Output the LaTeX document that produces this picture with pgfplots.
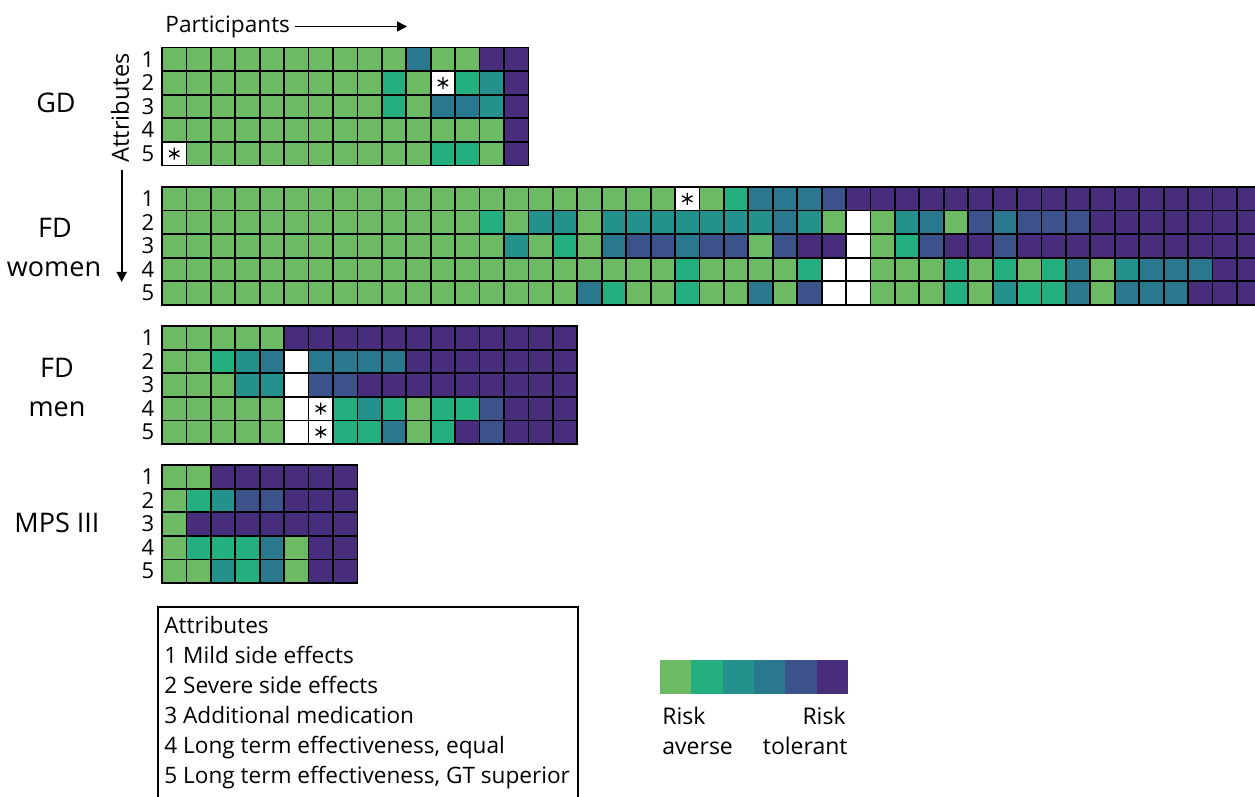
\documentclass[border=0pt]{standalone}
\usepackage{fontspec}
\setmainfont{Open Sans}
\usepackage{pgfplots}
\usepackage{pgfplotstable}
\pgfplotsset{compat=1.18}
\usetikzlibrary{arrows.meta}

\definecolor{c1}{RGB}{108,186,99}
\definecolor{c2}{RGB}{36,175,126}
\definecolor{c3}{RGB}{37,145,140}
\definecolor{c4}{RGB}{42,120,142}
\definecolor{c5}{RGB}{59,82,139}
\definecolor{c6}{RGB}{71,45,124}

\pgfdeclareplotmark{cell}{%
  \pgfpathrectanglecorners{\pgfqpoint{-6.11pt}{-5.9pt}}{\pgfqpoint{6.11pt}{5.9pt}}%
  \pgfusepathqfillstroke}

\tikzset{cellbase/.style={mark=cell,draw=black,line width=0.9pt}}
\newcommand\fs[1]{\fontsize{#1}{#1}\selectfont}

% level per participant (p) and attribute (a1..a5); 0 = no answer
\pgfplotstableread{
p a1 a2 a3 a4 a5
1 1 1 1 1 0
2 1 1 1 1 1
3 1 1 1 1 1
4 1 1 1 1 1
5 1 1 1 1 1
6 1 1 1 1 1
7 1 1 1 1 1
8 1 1 1 1 1
9 1 1 1 1 1
10 1 2 2 1 1
11 4 1 1 1 1
12 1 0 4 1 2
13 1 2 4 1 2
14 6 3 3 1 1
15 6 6 6 6 6
}\gd

\pgfplotstableread{
p a1 a2 a3 a4 a5
1 1 1 1 1 1
2 1 1 1 1 1
3 1 1 1 1 1
4 1 1 1 1 1
5 1 1 1 1 1
6 1 1 1 1 1
7 1 1 1 1 1
8 1 1 1 1 1
9 1 1 1 1 1
10 1 1 1 1 1
11 1 1 1 1 1
12 1 1 1 1 1
13 1 1 1 1 1
14 1 2 1 1 1
15 1 1 3 1 1
16 1 3 1 1 1
17 1 3 2 1 1
18 1 1 1 1 4
19 1 3 4 1 2
20 1 3 5 1 1
21 1 3 5 1 1
22 0 3 4 2 2
23 1 3 5 1 1
24 2 3 5 1 1
25 4 3 1 1 4
26 4 4 5 1 1
27 4 3 6 2 5
28 5 1 6 0 0
29 6 0 0 0 0
30 6 1 1 1 1
31 6 3 2 1 1
32 6 4 5 1 1
33 6 1 6 2 2
34 6 5 6 1 1
35 6 4 5 2 3
36 6 5 6 1 2
37 6 5 6 2 2
38 6 5 6 4 4
39 6 6 6 1 1
40 6 6 6 3 4
41 6 6 6 4 4
42 6 6 6 4 4
43 6 6 6 4 6
44 6 6 6 6 6
45 6 6 6 6 6
}\fdw

\pgfplotstableread{
p a1 a2 a3 a4 a5
1 1 1 1 1 1
2 1 1 1 1 1
3 1 2 1 1 1
4 1 3 3 1 1
5 1 4 3 1 1
6 6 0 0 0 0
7 6 4 5 0 0
8 6 4 5 2 2
9 6 4 6 3 2
10 6 4 6 2 4
11 6 6 6 1 1
12 6 6 6 2 2
13 6 6 6 2 6
14 6 6 6 5 5
15 6 6 6 6 6
16 6 6 6 6 6
17 6 6 6 6 6
}\fdm

\pgfplotstableread{
p a1 a2 a3 a4 a5
1 1 1 1 1 1
2 1 2 6 2 1
3 6 3 6 2 3
4 6 5 6 2 2
5 6 5 6 4 4
6 6 6 6 1 1
7 6 6 6 6 6
8 6 6 6 6 6
}\mps

% cells marked with an asterisk: panel top (px), participant, attribute
\pgfplotstableread{
top p a
47.5 1 5
47.5 12 2
187 22 1
326 7 4
326 7 5
}\stars

\begin{document}
\begin{tikzpicture}
\begin{axis}[at={(0,0)}, anchor=south west,
  width=627.5pt, height=398.5pt, scale only axis,
  xmin=0, xmax=1255, ymin=0, ymax=797, y dir=reverse,
  hide axis, clip=false,
  cellplot/.style={scatter, only marks, point meta=explicit symbolic,
    scatter/classes={
      0={cellbase,fill=white},
      1={cellbase,fill=c1},
      2={cellbase,fill=c2},
      3={cellbase,fill=c3},
      4={cellbase,fill=c4},
      5={cellbase,fill=c5},
      6={cellbase,fill=c6}}}]

\pgfplotsinvokeforeach{1,2,3,4,5}{
  \addplot[cellplot] table[x expr={162+24.43*(\thisrow{p}-0.5)}, y expr={47.5+23.6*(#1-0.5)}, meta=a#1]{\gd};
  \addplot[cellplot] table[x expr={162+24.43*(\thisrow{p}-0.5)}, y expr={187+23.6*(#1-0.5)}, meta=a#1]{\fdw};
  \addplot[cellplot] table[x expr={162+24.43*(\thisrow{p}-0.5)}, y expr={326+23.6*(#1-0.5)}, meta=a#1]{\fdm};
  \addplot[cellplot] table[x expr={162+24.43*(\thisrow{p}-0.5)}, y expr={465+23.6*(#1-0.5)}, meta=a#1]{\mps};
}

\addplot[only marks, mark=asterisk, mark size=3pt, black, line width=0.65pt]
  table[x expr={162+24.43*(\thisrow{p}-0.5)}, y expr={\thisrow{top}+23.6*(\thisrow{a}-0.5)}]{\stars};

% row numbers
\pgfplotsinvokeforeach{47.5,187,326,465}{
  \node[font=\fs{11}] at (axis cs:148,{#1+11.8}) {1};
  \node[font=\fs{11}] at (axis cs:148,{#1+35.4}) {2};
  \node[font=\fs{11}] at (axis cs:148,{#1+59.0}) {3};
  \node[font=\fs{11}] at (axis cs:148,{#1+82.6}) {4};
  \node[font=\fs{11}] at (axis cs:148,{#1+106.2}) {5};
}

% panel labels
\node[font=\fs{13.5}, anchor=base] at (axis cs:56,113) {GD};
\node[font=\fs{13.5}, anchor=base] at (axis cs:55,238) {FD};
\node[font=\fs{13.5}, anchor=base] at (axis cs:54,277) {women};
\node[font=\fs{13.5}, anchor=base] at (axis cs:57,378) {FD};
\node[font=\fs{13.5}, anchor=base] at (axis cs:57,416) {men};
\node[font=\fs{13.5}, anchor=base] at (axis cs:57,532) {MPS III};

% axis-direction labels
\node[font=\fs{11.3}, anchor=base west, inner sep=0pt] at (axis cs:165,33) {Participants};
\draw[-{Triangle[length=5pt,width=5pt]}, line width=0.8pt] (axis cs:295,26.5) -- (axis cs:407,26.5);
\node[font=\fs{11.8}, rotate=90, inner sep=0pt] at (axis cs:120,108) {Attributes};
\draw[-{Triangle[length=5pt,width=5pt]}, line width=0.8pt] (axis cs:121.7,170) -- (axis cs:121.7,282);

% attributes legend box
\draw[line width=1pt] (axis cs:158,820) -- (axis cs:158,607) -- (axis cs:578,607) -- (axis cs:578,820);
\node[font=\fs{11.3}, anchor=base west, inner sep=0pt] at (axis cs:164,633) {Attributes};
\node[font=\fs{11.3}, anchor=base west, inner sep=0pt] at (axis cs:164,663) {1 Mild side effects};
\node[font=\fs{11.3}, anchor=base west, inner sep=0pt] at (axis cs:164,693) {2 Severe side effects};
\node[font=\fs{11.3}, anchor=base west, inner sep=0pt] at (axis cs:164,723) {3 Additional medication};
\node[font=\fs{11.3}, anchor=base west, inner sep=0pt] at (axis cs:164,753) {4 Long term effectiveness, equal};
\node[font=\fs{11.3}, anchor=base west, inner sep=0pt] at (axis cs:164,783) {5 Long term effectiveness, GT superior};

% colour scale
\fill[c1] (axis cs:660,660) rectangle (axis cs:691.3,694);
\fill[c2] (axis cs:691.3,660) rectangle (axis cs:722.7,694);
\fill[c3] (axis cs:722.7,660) rectangle (axis cs:754,694);
\fill[c4] (axis cs:754,660) rectangle (axis cs:785.3,694);
\fill[c5] (axis cs:785.3,660) rectangle (axis cs:816.7,694);
\fill[c6] (axis cs:816.7,660) rectangle (axis cs:848,694);
\node[font=\fs{11.5}, anchor=base west, inner sep=0pt] at (axis cs:662,724) {Risk};
\node[font=\fs{11.5}, anchor=base west, inner sep=0pt] at (axis cs:662,754) {averse};
\node[font=\fs{11.5}, anchor=base east, inner sep=0pt] at (axis cs:846,724) {Risk};
\node[font=\fs{11.5}, anchor=base east, inner sep=0pt] at (axis cs:848,754) {tolerant};
\end{axis}
\pgfresetboundingbox
\useasboundingbox (0,0) rectangle (627.5pt,398.5pt);
\end{tikzpicture}
\end{document}
